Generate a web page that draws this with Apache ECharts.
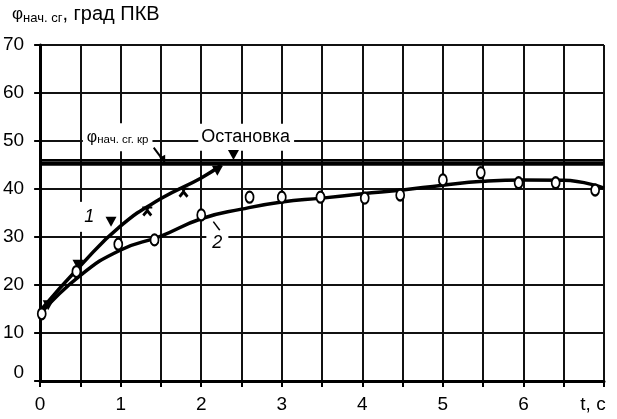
<!DOCTYPE html>
<html>
<head>
<meta charset="utf-8">
<script src="https://cdn.jsdelivr.net/npm/echarts@6/dist/echarts.min.js"></script>
<style>
html,body{margin:0;padding:0;background:#fff;}
#c{width:617px;height:419px;}
</style>
</head>
<body>
<div id="c"></div>
<script>
// ---- data ----
var xTickLabels = {0:'0',1:'1',2:'2',3:'3',4:'4',5:'5',6:'6',7:'t, c'};
var yTickLabels = [0,10,20,30,40,50,60,70];

// curve 1 (fitted line) and its measured points
var curve1 = [[0,14.6],[0.5,24],[1,32.3],[1.5,38.0],[2,42.3],[2.25,45.0]];
var points1 = [[0.1,15.8],[0.47,24.2],[0.88,33.2],[1.33,35.3],[1.78,39.2],[2.2,43.8],[2.4,47.1]];
var points1Kind = ['tri','tri','tri','x','x','tri','tri'];

// curve 2 (fitted line) and its measured points
var curve2 = [[0,14],[0.5,22],[1,27.3],[1.5,30.2],[2,33.8],[2.5,35.8],[3,37.3],[3.5,38.1],[4,39],[4.5,39.8],[5,40.8],[5.5,41.6],[6,41.9],[6.5,41.8],[7,40.2]];
var points2 = [[0.02,14],[0.45,22.8],[0.97,28.5],[1.42,29.4],[2.0,34.6],[2.6,38.3],[3.0,38.3],[3.48,38.3],[4.03,38.1],[4.47,38.75],[5.0,41.9],[5.47,43.4],[5.94,41.3],[6.4,41.3],[6.89,39.8]];

// critical level lines
var critLevel = 45.3;
var critLevelUpper = 46.1;

// ---- chart ----
var FONT = '"Liberation Sans", Arial, sans-serif';
var chart = echarts.init(document.getElementById('c'), null, {renderer:'canvas'});
var xPath = 'path://M0,0L10,0L10,2L7,2L6.2,3.2L10,8L8,10L5,6.5L2,10L0,8L3.8,3.2L3,2L0,2Z';

var p1data = points1.map(function(p,i){
  var k = points1Kind[i];
  return {value:p, symbol: k==='x' ? xPath : 'triangle', symbolRotate: k==='x' ? 0 : 180, symbolSize: k==='x' ? [10,10] : [11,10]};
});

chart.setOption({
  animation:false,
  backgroundColor:'#fff',
  grid:{left:39,right:13,top:45,bottom:38,containLabel:false},
  xAxis:{
    type:'value',min:0,max:7,interval:0.5,
    axisLine:{show:true,onZero:false,lineStyle:{color:'#000',width:3}},
    axisTick:{show:true,length:6,lineStyle:{color:'#000',width:2}},
    splitLine:{show:true,lineStyle:{color:'#111',width:2}},
    axisLabel:{
      margin:14,color:'#000',fontSize:19,fontFamily:FONT,showMaxLabel:true,showMinLabel:true,
      formatter:function(v){
        var k = Math.round(v*2)/2;
        if(k===7) return '{t|'+xTickLabels[7]+'}';
        return (k%1===0 && xTickLabels[k]!==undefined) ? xTickLabels[k] : '';
      },
      rich:{t:{fontSize:19,fontFamily:FONT,color:'#000',padding:[0,22,0,0]}}
    }
  },
  yAxis:{
    type:'value',min:0,max:70,interval:10,
    axisLine:{show:true,onZero:false,lineStyle:{color:'#000',width:3}},
    axisTick:{show:true,length:6,lineStyle:{color:'#000',width:2}},
    splitLine:{show:true,lineStyle:{color:'#111',width:2}},
    axisLabel:{
      margin:16,color:'#000',fontSize:19,fontFamily:FONT,
      formatter:function(v){ return yTickLabels.indexOf(v)<0 ? '' : (v===0 ? '{z|0}' : String(v)); },
      rich:{z:{fontSize:19,fontFamily:FONT,color:'#000',padding:[0,0,16,0]}}
    }
  },
  series:[
    {type:'line',data:curve1,smooth:true,showSymbol:false,lineStyle:{color:'#000',width:3.5},z:3,
     markLine:{silent:true,symbol:'none',label:{show:false},
       data:[{yAxis:critLevel,lineStyle:{color:'#000',width:4.5,type:'solid'}},
             {yAxis:critLevelUpper,lineStyle:{color:'#000',width:1.8,type:'solid'}}]}},
    {type:'line',data:curve2,smooth:true,showSymbol:false,lineStyle:{color:'#000',width:3.5},z:3},
    {type:'scatter',data:p1data,itemStyle:{color:'#000',opacity:1},z:4},
    {type:'scatter',data:points2,symbol:'emptyCircle',symbolSize:[8,11],
     itemStyle:{color:'#000',borderColor:'#000',borderWidth:3,opacity:1},z:4}
  ]
});

function px(t,v){ return chart.convertToPixel({gridIndex:0},[t,v]); }

var a1 = px(0.58,50.8), a2 = px(2.0,50.8);
var arS = px(1.41,48.6), arE = px(1.54,45.7);
var l1 = px(0.61,34.2), l2 = px(2.2,28.8);
var tk1 = px(2.15,33.2), tk2 = px(2.23,31.4);

chart.setOption({graphic:[
  {type:'text',left:12,top:4,style:{
    rich:{phi:{fontSize:17,fontFamily:FONT,fill:'#000'},sub:{fontSize:13,fontFamily:FONT,fill:'#000',padding:[8,0,0,0]},m:{fontSize:20,fontFamily:FONT,fill:'#000'}},
    text:'{phi|φ}{sub|нач. сг}{m|, град ПКВ}'}},
  {type:'text',x:a1[0]-4,y:a1[1],style:{
    text:'{phi|φ}{sub|нач. сг. кр}',verticalAlign:'middle',
    backgroundColor:'#fff',padding:[5,4,5,4],
    rich:{phi:{fontSize:16,fontFamily:FONT,fill:'#000'},sub:{fontSize:11.5,fontFamily:FONT,fill:'#000',padding:[6,0,0,0]}}}},
  {type:'text',x:a2[0]-3,y:a2[1],style:{
    text:'Остановка',fontSize:18,fontFamily:FONT,fill:'#000',verticalAlign:'middle',
    backgroundColor:'#fff',padding:[5,4,4,3]}},
  {type:'line',shape:{x1:arS[0],y1:arS[1],x2:arE[0],y2:arE[1]},style:{stroke:'#000',lineWidth:2}},
  {type:'polygon',shape:{points:[[arE[0]+1,arE[1]+1],[arE[0]-5,arE[1]-4],[arE[0]+1,arE[1]-7]]},style:{fill:'#000'}},
  {type:'text',x:l1[0],y:l1[1],style:{
    text:'1',fontSize:18,fontStyle:'italic',fontFamily:FONT,fill:'#000',align:'center',verticalAlign:'middle',
    backgroundColor:'#fff',padding:[6,7,6,7]}},
  {type:'line',shape:{x1:tk1[0],y1:tk1[1],x2:tk2[0],y2:tk2[1]},style:{stroke:'#000',lineWidth:1.5}},
  {type:'text',x:l2[0],y:l2[1],style:{
    text:'2',fontSize:18,fontStyle:'italic',fontFamily:FONT,fill:'#000',align:'center',verticalAlign:'middle',
    backgroundColor:'#fff',padding:[3,6,3,6]}}
]});
</script>
</body>
</html>
